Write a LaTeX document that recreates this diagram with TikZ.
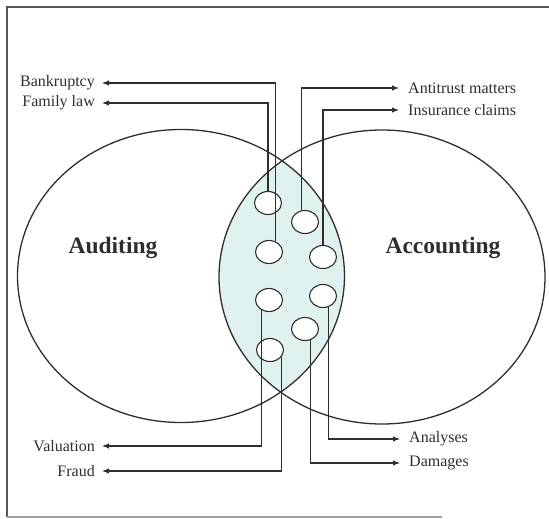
\documentclass[tikz,border=0pt]{standalone}
\usepackage{fontspec}
\setmainfont{Liberation Serif}
\usetikzlibrary{arrows.meta,shapes.geometric}
\definecolor{ink}{rgb}{0.18,0.18,0.18}
\definecolor{lensfill}{RGB}{224,242,240}
\definecolor{framegray}{RGB}{85,85,85}
\definecolor{framelight}{RGB}{160,160,160}
\tikzset{
  bigset/.style={draw=ink,line width=1.3pt},
  spot/.style={ellipse,draw=ink,line width=1.1pt,fill=white,minimum width=27pt,minimum height=23pt,inner sep=0pt},
  conn/.style={draw=ink,line width=1.1pt,-{Latex[length=7pt,width=5.5pt]}},
  leftlab/.style={anchor=east,inner xsep=7pt,inner ysep=0pt,font=\fontsize{16}{18}\selectfont,text=ink},
  rightlab/.style={anchor=west,inner xsep=9pt,inner ysep=0pt,font=\fontsize{16}{18}\selectfont,text=ink},
  settitle/.style={font=\bfseries\fontsize{23.5}{26}\selectfont,text=ink},
}
\begin{document}
\begin{tikzpicture}[x=1pt,y=-1pt]
\useasboundingbox (0,0) rectangle (549,519);
% frame
\draw[framegray,line width=2pt] (549,7) -- (7,7) -- (7,517);
\draw[framelight,line width=1.5pt] (7,517) -- (442,517);
% lens fill
\begin{scope}
  \clip (181,276) ellipse [x radius=163.5pt, y radius=146.5pt];
  \fill[lensfill] (382,277) ellipse [x radius=163pt, y radius=147pt];
\end{scope}
% sets
\draw[bigset] (181,276) ellipse [x radius=163.5pt, y radius=146.5pt];
\draw[bigset] (382,277) ellipse [x radius=163pt, y radius=147pt];
\node[settitle] (aud) at (113,248) {Auditing};
\node[settitle] (acc) at (443,248) {Accounting};
% spots
\node[spot] (c1) at (268,203) {};
\node[spot] (c2) at (305,222) {};
\node[spot] (c3) at (269,252) {};
\node[spot] (c4) at (323,257) {};
\node[spot] (c5) at (269,300) {};
\node[spot] (c6) at (323,296) {};
\node[spot] (c7) at (305,329) {};
\node[spot] (c8) at (270,350) {};
% labels
\node[leftlab] (bank) at (102,83) {Bankruptcy};
\node[leftlab] (fam) at (102,103) {Family law};
\node[rightlab] (anti) at (399,88) {Antitrust matters};
\node[rightlab] (ins) at (399,110) {Insurance claims};
\node[leftlab] (val) at (102,446) {Valuation};
\node[leftlab] (fraud) at (102,471) {Fraud};
\node[rightlab] (ana) at (400,439) {Analyses};
\node[rightlab] (dam) at (400,463) {Damages};
% connectors
\draw[conn] (c1.north) |- (fam.east);
\draw[conn] (c3.60) |- (bank.east);
\draw[conn] (c2.105) |- (anti.west);
\draw[conn] (c4.north) |- (ins.west);
\draw[conn] (c5.235) |- (val.east);
\draw[conn] (c8.-30) |- (fraud.east);
\draw[conn] (c6.-65) |- (ana.west);
\draw[conn] (c7.-65) |- (dam.west);
\end{tikzpicture}
\end{document}
